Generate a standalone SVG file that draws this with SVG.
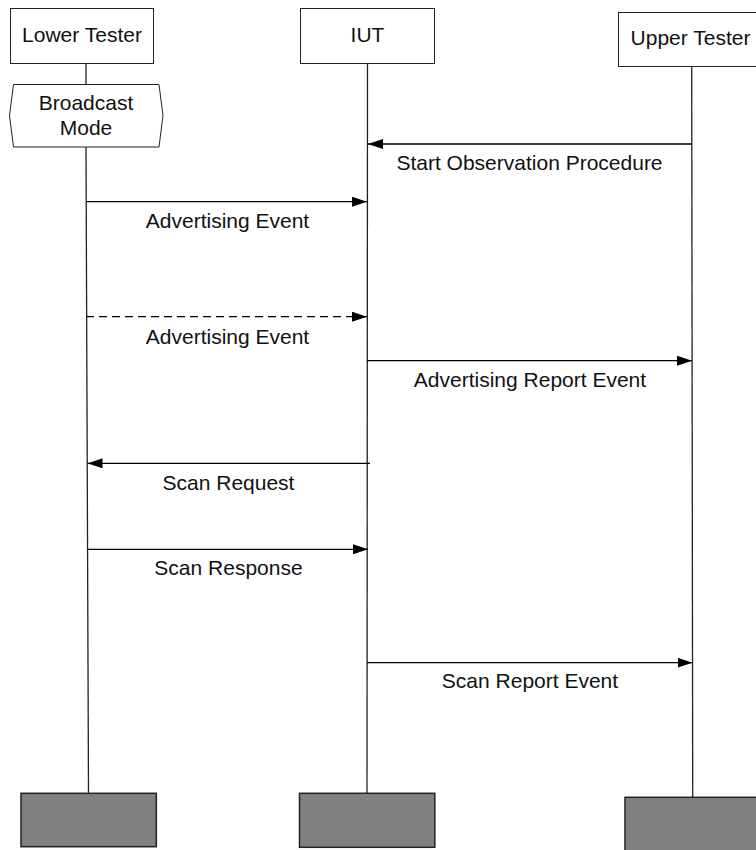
<svg xmlns="http://www.w3.org/2000/svg" width="756" height="850" viewBox="0 0 756 850">
  <defs>
    <marker id="arrow" markerWidth="15" markerHeight="10" refX="15" refY="5" orient="auto" markerUnits="userSpaceOnUse">
      <path d="M0,0 L15,5 L0,10 Z" fill="#000"/>
    </marker>
    <style>
      .box { fill: #fff; stroke: #222; stroke-width: 1; }
      .end { fill: #808080; stroke: #222; stroke-width: 1.5; }
      .life { stroke: #222; stroke-width: 1.3; fill: none; }
      .msg { stroke: #000; stroke-width: 1.3; fill: none; marker-end: url(#arrow); }
      .dash { stroke-dasharray: 8 5; }
      text { font-family: "Liberation Sans", Arial, sans-serif; font-size: 21px; fill: #111; text-anchor: middle; }
    </style>
  </defs>

  <!-- lifelines -->
  <g id="lifelines">
    <line class="life" x1="86" y1="63" x2="86" y2="84"/>
    <line class="life" x1="86" y1="147" x2="88.5" y2="793"/>
    <line class="life" x1="367.5" y1="63" x2="367" y2="793"/>
    <line class="life" x1="691.7" y1="66" x2="692.7" y2="797"/>
  </g>

  <!-- participant heads -->
  <g id="lower-tester">
    <rect class="box" x="10.5" y="8.5" width="143" height="55"/>
    <text x="82" y="42">Lower Tester</text>
  </g>
  <g id="iut">
    <rect class="box" x="300.5" y="8.5" width="134" height="55"/>
    <text x="367.5" y="42">IUT</text>
  </g>
  <g id="upper-tester">
    <rect class="box" x="618.5" y="12.5" width="145" height="54"/>
    <text x="690.5" y="45">Upper Tester</text>
  </g>

  <!-- condition on the lower tester lifeline -->
  <g id="broadcast-mode">
    <polygon class="box" points="13.5,84.5 159,84.5 163,115.5 159,147 13.5,147 9.5,115.5"/>
    <text x="86" y="110">Broadcast</text>
    <text x="86" y="135">Mode</text>
  </g>

  <!-- messages -->
  <g id="connectors">
    <line class="msg" x1="691.7" y1="144" x2="368" y2="144"/>
    <line class="msg" x1="86" y1="201.7" x2="367" y2="201.7"/>
    <line class="msg dash" x1="86" y1="316.7" x2="367" y2="316.7"/>
    <line class="msg" x1="367" y1="360.7" x2="692" y2="360.7"/>
    <line class="msg" x1="370" y1="463.3" x2="87.5" y2="463.3"/>
    <line class="msg" x1="87.5" y1="549.3" x2="368" y2="549.3"/>
    <line class="msg" x1="367" y1="662.7" x2="692.5" y2="662.7"/>
  </g>

  <!-- message labels -->
  <g id="labels">
    <text x="529.5" y="170">Start Observation Procedure</text>
    <text x="227.5" y="228">Advertising Event</text>
    <text x="227.5" y="344">Advertising Event</text>
    <text x="530" y="387">Advertising Report Event</text>
    <text x="228.5" y="490">Scan Request</text>
    <text x="228.5" y="575">Scan Response</text>
    <text x="530" y="688">Scan Report Event</text>
  </g>

  <!-- lifeline end blocks -->
  <g id="lower-tester-end">
    <rect class="end" x="21" y="793.3" width="135.3" height="53.4"/>
  </g>
  <g id="iut-end">
    <rect class="end" x="299.5" y="793.3" width="135.3" height="54"/>
  </g>
  <g id="upper-tester-end">
    <rect class="end" x="625" y="797.3" width="140" height="60"/>
  </g>
</svg>
